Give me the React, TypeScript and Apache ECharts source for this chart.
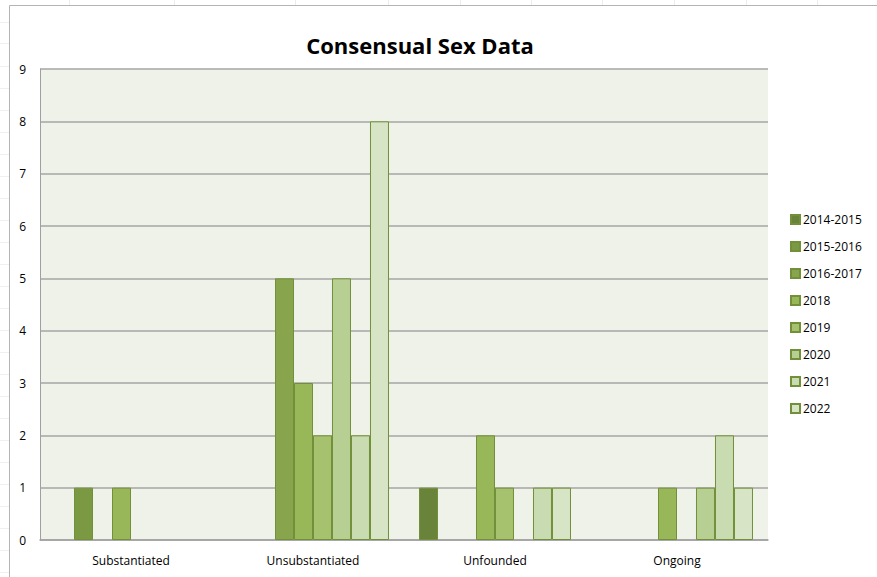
import React, { useEffect, useRef } from "react";
import * as echarts from "echarts";

// Case outcome categories along the x axis
const categories = ["Substantiated", "Unsubstantiated", "Unfounded", "Ongoing"];

// Reporting periods (one series each)
const periods = [
  "2014-2015",
  "2015-2016",
  "2016-2017",
  "2018",
  "2019",
  "2020",
  "2021",
  "2022",
];

// Counts per period, ordered as the categories above
const v2014_2015 = [0, 0, 1, 0];
const v2015_2016 = [1, 0, 0, 0];
const v2016_2017 = [0, 5, 0, 0];
const v2018 = [1, 3, 2, 1];
const v2019 = [0, 2, 1, 0];
const v2020 = [0, 5, 0, 1];
const v2021 = [0, 2, 1, 2];
const v2022 = [0, 8, 1, 1];

const seriesValues = [
  v2014_2015,
  v2015_2016,
  v2016_2017,
  v2018,
  v2019,
  v2020,
  v2021,
  v2022,
];

// Olive-green ramp, darkest to lightest
const colors = [
  "#6a833a",
  "#7b9843",
  "#88a54d",
  "#98b758",
  "#a7c26f",
  "#b8cf94",
  "#c9dbb0",
  "#d8e4c6",
];

const yTicks = [0, 1, 2, 3, 4, 5, 6, 7, 8, 9];

const FONT = "'Open Sans', Lato, sans-serif";

export default function App() {
  const ref = useRef<HTMLDivElement>(null);

  useEffect(() => {
    if (!ref.current) return;
    const chart = echarts.init(ref.current, undefined, { renderer: "svg" });

    const series = periods.map((name, i) => ({
      name,
      type: "bar" as const,
      barGap: "0%",
      barCategoryGap: "16.5%",
      data: seriesValues[i].map((v) => (v === 0 ? null : v)),
      itemStyle: {
        color: colors[i],
        borderColor: "#72903a",
        borderWidth: 1,
      },
    }));

    // faint worksheet grid marks around the chart frame
    const sheetCols = [69, 174, 295, 388, 460, 531, 602, 674, 746, 817];
    const sheetRows = [22, 43, 66, 88, 110, 132, 154, 176, 198, 220, 242, 264, 286, 308, 330, 352, 374, 396, 418, 440, 462, 484, 506, 528, 550, 572];
    const marks: any[] = [
      ...sheetCols.map((x) => ({
        type: "line",
        shape: { x1: x + 0.5, y1: 0, x2: x + 0.5, y2: 5 },
        style: { stroke: "#ececec", lineWidth: 1 },
        silent: true,
      })),
      ...sheetRows.map((y) => ({
        type: "line",
        shape: { x1: 0, y1: y + 0.5, x2: 9, y2: y + 0.5 },
        style: { stroke: "#f0f0f0", lineWidth: 1 },
        silent: true,
      })),
      {
        type: "polyline",
        shape: {
          points: [
            [9.5, 577],
            [9.5, 5.5],
            [877, 5.5],
          ],
        },
        style: { stroke: "#b4b4b4", lineWidth: 1, fill: "none" },
        silent: true,
      },
    ];

    chart.setOption({
      animation: false,
      backgroundColor: "#ffffff",
      title: {
        text: "Consensual Sex Data",
        left: 415,
        top: 29,
        textAlign: "center",
        textStyle: {
          fontFamily: FONT,
          fontSize: 22,
          fontWeight: "bold",
          color: "#000000",
        },
      },
      legend: {
        orient: "vertical",
        left: 790,
        top: 211,
        padding: 0,
        itemWidth: 9,
        itemHeight: 9,
        itemGap: 10,
        icon: "rect",
        textStyle: {
          fontFamily: FONT,
          fontSize: 12,
          color: "#000000",
          padding: [0, 0, 0, -2],
          lineHeight: 17,
        },
        data: periods,
      },
      grid: {
        left: 40,
        right: 109,
        top: 69,
        bottom: 37,
        show: true,
        backgroundColor: "#eff2e8",
        borderWidth: 0,
      },
      xAxis: {
        type: "category",
        data: categories,
        axisLine: { show: true, lineStyle: { color: "#a0a0a0", width: 1.5 } },
        axisTick: { show: false },
        axisLabel: {
          fontFamily: FONT,
          fontSize: 12,
          color: "#000000",
          margin: 14,
        },
      },
      yAxis: {
        type: "value",
        min: yTicks[0],
        max: yTicks[yTicks.length - 1],
        interval: 1,
        axisLine: { show: true, lineStyle: { color: "#a0a0a0", width: 1 } },
        axisTick: { show: false },
        splitLine: { show: true, lineStyle: { color: "#a6a6a6", width: 1.5 } },
        axisLabel: {
          fontFamily: FONT,
          fontSize: 12,
          color: "#000000",
          margin: 14,
        },
      },
      graphic: marks,
      series,
    });

    return () => chart.dispose();
  }, []);

  return <div ref={ref} style={{ width: 877, height: 577, position: "absolute", left: 0, top: 0 }} />;
}
